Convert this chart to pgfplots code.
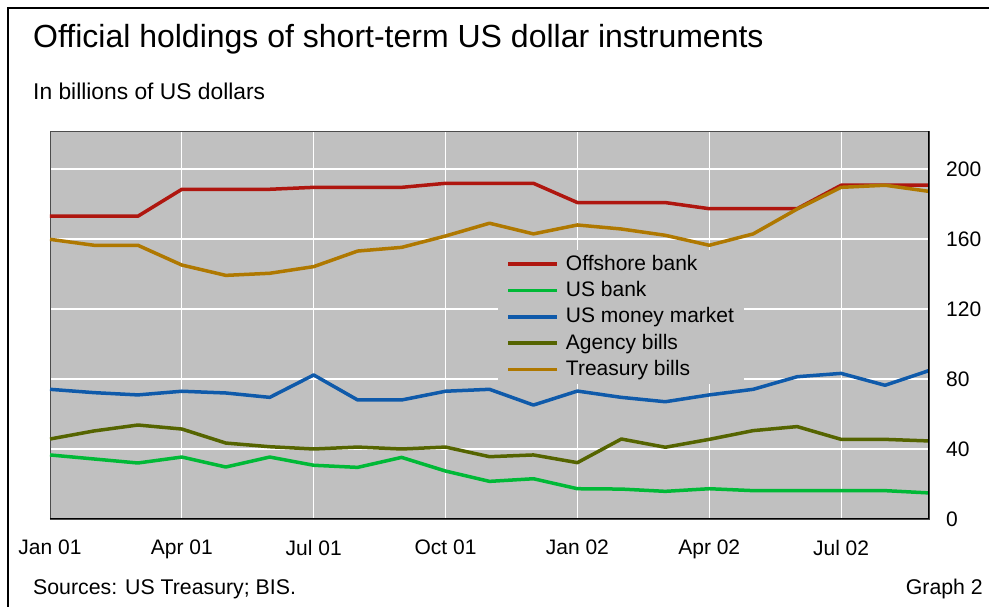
\documentclass[border=0pt]{standalone}
\usepackage{fontspec}
\setmainfont{Liberation Sans}
\usepackage{pgfplots}
\pgfplotsset{compat=1.18}

\definecolor{bgray}{RGB}{192,192,192}
\definecolor{cOff}{RGB}{175,22,15}
\definecolor{cUSb}{RGB}{0,185,55}
\definecolor{cMM}{RGB}{15,90,170}
\definecolor{cAg}{RGB}{85,100,0}
\definecolor{cTr}{RGB}{175,120,0}

% monthly, Jan 2001 (0) to Sep 2002 (20)
\pgfplotstableread{
m  off    usb   mm    ag    tr
0  173.0  36.6  74.1  45.7  159.8
1  173.0  34.3  72.2  50.3  156.4
2  173.0  32.0  70.9  53.7  156.4
3  188.4  35.4  73.0  51.4  145.1
4  188.4  29.7  72.0  43.4  139.2
5  188.4  35.4  69.5  41.3  140.4
6  189.5  30.7  82.3  40.0  144.2
7  189.5  29.5  68.0  41.1  153.1
8  189.5  35.2  68.0  40.0  155.2
9  191.8  27.4  73.0  41.1  161.7
10 191.8  21.5  74.1  35.6  169.0
11 191.8  23.0  65.1  36.6  162.9
12 180.8  17.3  73.1  32.2  168.0
13 180.8  17.1  69.5  45.7  165.7
14 180.8  15.8  67.0  41.0  162.1
15 177.3  17.3  70.9  45.5  156.4
16 177.3  16.2  74.1  50.5  162.9
17 177.3  16.2  81.3  52.8  177.1
18 190.7  16.2  83.2  45.5  189.5
19 190.7  16.2  76.4  45.5  190.7
20 190.7  14.9  84.8  44.6  187.2
}\holdings

\begin{document}
\begin{tikzpicture}
\fontsize{21bp}{25bp}\selectfont
\path[use as bounding box] (0,0) rectangle (989bp,607bp);
\draw[line width=2.5bp] (8bp,0) -- (8bp,599bp) -- (989bp,599bp);

\node[anchor=base west,inner sep=0,font=\fontsize{32bp}{38bp}\selectfont] at (33bp,559bp) {Official holdings of short-term US dollar instruments};
\node[anchor=base west,inner sep=0,font=\fontsize{22.8bp}{27bp}\selectfont] at (33bp,507bp) {In billions of US dollars};
\node[anchor=base west,inner sep=0,font=\fontsize{21.3bp}{25bp}\selectfont] at (33bp,13bp) {Sources: US Treasury; BIS.};
\node[anchor=base east,inner sep=0,font=\fontsize{21.3bp}{25bp}\selectfont] at (983bp,13bp) {Graph 2};

\begin{axis}[
    at={(50bp,88bp)}, anchor=south west,
    scale only axis,
    width=879bp, height=388bp,
    xmin=0, xmax=20, ymin=0, ymax=221.7,
    axis background/.style={fill=bgray},
    axis line style={draw=black!70, line width=0.8bp},
    xtick={0,3,6,9,12,15,18},
    xticklabels={Jan 01,Apr 01,Jul 01,Oct 01,Jan 02,Apr 02,Jul 02},
    ytick={0,40,80,120,160,200},
    yticklabel pos=right,
    tick style={draw=none},
    grid=major,
    major grid style={white, line width=1.2bp},
    ticklabel style={font=\fontsize{21bp}{25bp}\selectfont},
    /pgf/number format/assume math mode=true,
    xticklabel style={yshift=-14bp},
    yticklabel style={xshift=10bp, anchor=west},
    legend style={at={(rel axis cs:0.510,0.694)}, anchor=north west,
        fill=bgray, draw=none, font=\fontsize{21bp}{25bp}\selectfont,
        inner xsep=8bp, inner ysep=3bp, row sep=4bp,
        /tikz/every odd column/.append style={column sep=5bp}},
    legend cell align=left,
    legend image code/.code={\draw[#1] (0bp,0bp) -- (49bp,0bp);},
    every axis plot/.append style={line width=3.5bp, line join=round},
]
\addplot[cOff] table[x=m,y=off] {\holdings};
\addplot[cUSb] table[x=m,y=usb] {\holdings};
\addplot[cMM] table[x=m,y=mm] {\holdings};
\addplot[cAg] table[x=m,y=ag] {\holdings};
\addplot[cTr] table[x=m,y=tr] {\holdings};
\legend{Offshore bank,US bank,US money market,Agency bills,Treasury bills}
\draw[black, line width=2bp] (rel axis cs:0,0) -- (rel axis cs:1,0) -- (rel axis cs:1,1);
\end{axis}
\end{tikzpicture}
\end{document}
